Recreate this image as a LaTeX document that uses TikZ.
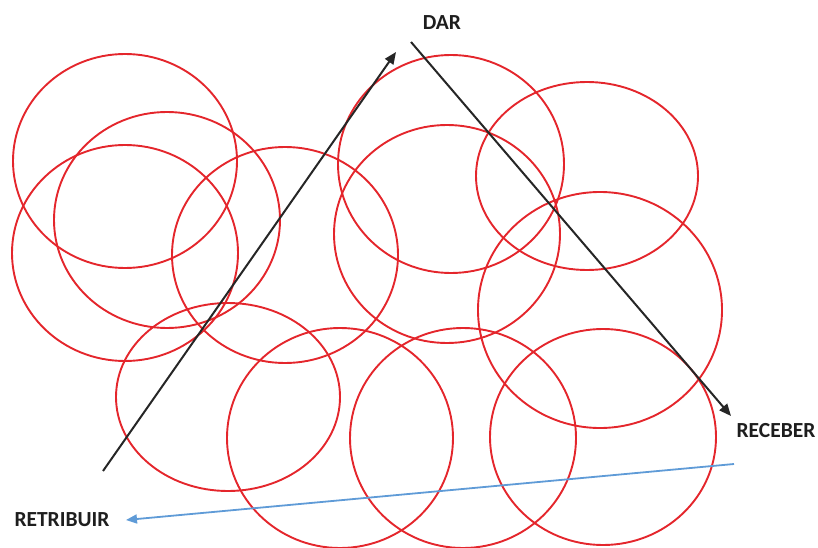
\documentclass[tikz,border=0pt]{standalone}
\usepackage{fontspec}
\setmainfont{Carlito}
\usetikzlibrary{arrows.meta}
\definecolor{ringred}{RGB}{228,38,44}
\definecolor{flowblue}{RGB}{95,155,215}
\definecolor{labelgray}{RGB}{30,30,30}
\begin{document}
\begin{tikzpicture}[x=1pt,y=-1pt,
  ring/.style={draw=ringred,line width=1.9pt},
  flow/.style={draw=black!85,line width=2pt,-{Triangle[length=12pt,width=10pt]}},
  backflow/.style={draw=flowblue,line width=1.8pt,-{Triangle[length=11pt,width=9pt]},color=flowblue},
  lbl/.style={font=\bfseries\fontsize{21.5}{23}\selectfont,text=labelgray,inner sep=0pt}]
\useasboundingbox (0,0) rectangle (818,548);
% rings
\draw[ring] (125,161) ellipse (112 and 107);
\draw[ring] (167,220) ellipse (113 and 108);
\draw[ring] (125,253) ellipse (113 and 108);
\draw[ring] (285,255) ellipse (113 and 108);
\draw[ring] (228,397) ellipse (112 and 94);
\draw[ring] (340,438) ellipse (113 and 110);
\draw[ring] (451,164) ellipse (113 and 109);
\draw[ring] (447,234) ellipse (113 and 109);
\draw[ring] (587,176) ellipse (111 and 94);
\draw[ring] (600,310) ellipse (122 and 118);
\draw[ring] (463,438) ellipse (113 and 110);
\draw[ring] (603,437) ellipse (113 and 108);
% labels
\node[lbl] (dar) at (442,23) {DAR};
\node[lbl] (receber) at (776,431) {RECEBER};
\node[lbl] (retribuir) at (62,520) {RETRIBUIR};
% arrow end points
\coordinate (upTail) at (103,471);
\coordinate (upHead) at (396,52);
\coordinate (downTail) at (411,42);
\coordinate (downHead) at (731,416);
\coordinate (backTail) at (734,464);
\coordinate (backHead) at (126,520);
\draw[flow] (upTail) -- (upHead);
\draw[flow] (downTail) -- (downHead);
\draw[backflow] (backTail) -- (backHead);
\end{tikzpicture}
\end{document}
